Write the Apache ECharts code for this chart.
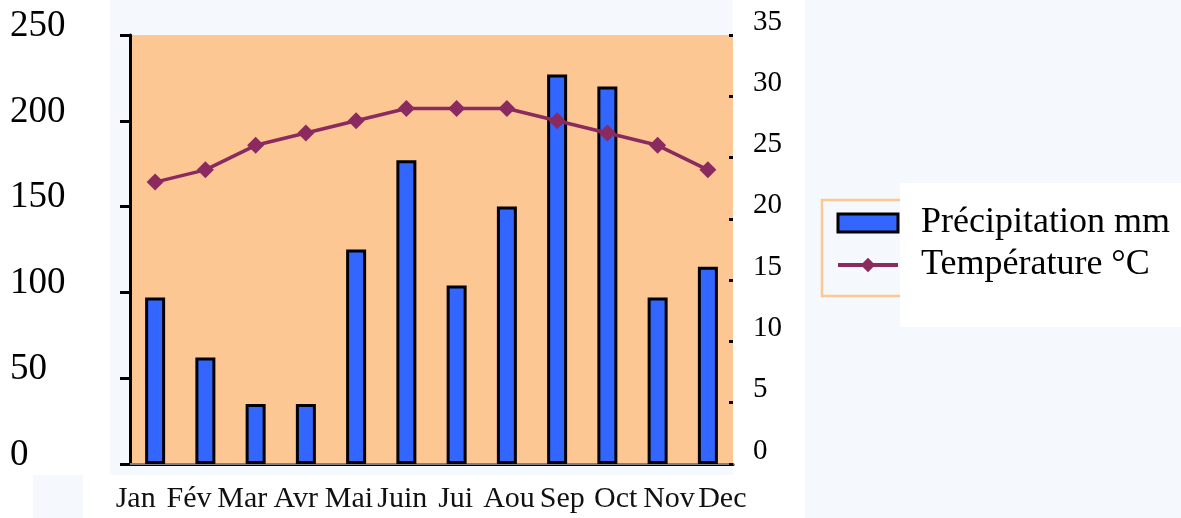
<!DOCTYPE html>
<html>
<head>
  <meta charset="UTF-8">
  <title>Climat</title>
  <script src="https://cdn.jsdelivr.net/npm/echarts@6/dist/echarts.min.js"></script>
</head>
<body style="margin: 0; background-color: #ffffff;">
  <div id="main" style="width: 1181px; height: 518px;"></div>
  <script type="text/javascript">
    // données
    var months = ['Jan', 'Fév', 'Mar', 'Avr', 'Mai', 'Juin', 'Jui', 'Aou', 'Sep', 'Oct', 'Nov', 'Dec'];
    var precipitation = [97, 62, 35, 35, 125, 177, 104, 150, 227, 220, 97, 115];
    var temperature = [23, 24, 26, 27, 28, 29, 29, 29, 28, 27, 26, 24];
    var seriesNames = ['Précipitation mm', 'Température °C'];

    var serif = '"Liberation Serif", "Times New Roman", serif';
    var lightBlue = '#f5f9fd';
    var plotBg = '#fdc794';
    var lineColor = '#8b2a5e';

    var myChart = echarts.init(document.getElementById('main'));

    var option = {
      backgroundColor: '#ffffff',
      animation: false,
      textStyle: { fontFamily: serif },
      graphic: [
        // fonds bleu clair autour du graphique
        { type: 'rect', z: -10, shape: { x: 110, y: 0, width: 623, height: 475 }, style: { fill: lightBlue } },
        { type: 'rect', z: -10, shape: { x: 805, y: 0, width: 376, height: 518 }, style: { fill: lightBlue } },
        { type: 'rect', z: -10, shape: { x: 33, y: 475, width: 50, height: 43 }, style: { fill: lightBlue } },
        // cadre de la légende
        { type: 'rect', z: -9, shape: { x: 822, y: 200, width: 80, height: 96 }, style: { fill: lightBlue, stroke: plotBg, lineWidth: 2.5 } },
        { type: 'rect', z: -8, shape: { x: 900, y: 183, width: 281, height: 144 }, style: { fill: '#ffffff' } }
      ],
      legend: {
        data: [
          { name: seriesNames[0], icon: 'rect', itemStyle: { borderWidth: 3, borderColor: '#000' } },
          { name: seriesNames[1], lineStyle: { width: 4 } }
        ],
        orient: 'vertical',
        left: 831,
        top: 200,
        itemWidth: 60,
        itemHeight: 18,
        itemGap: 6,
        textStyle: {
          fontFamily: serif,
          fontSize: 36,
          color: '#000',
          padding: [0, 0, 0, 18]
        }
      },
      grid: [
        {
          left: 130,
          right: 448,
          top: 35,
          bottom: 54,
          show: true,
          backgroundColor: plotBg,
          borderWidth: 0
        },
        // grille sans tracé, seulement pour placer les libellés des mois
        { left: 109, right: 432, top: 35, bottom: 54 }
      ],
      xAxis: [
        {
          type: 'category',
          data: months,
          boundaryGap: true,
          axisLine: { lineStyle: { color: '#000', width: 3 } },
          axisTick: { length: 10, lineStyle: { color: '#000', width: 3 } },
          axisLabel: { show: false }
        },
        {
          type: 'category',
          data: months,
          position: 'top',
          axisLine: { lineStyle: { color: '#808080', width: 2 } },
          axisTick: { show: false },
          axisLabel: { show: false }
        },
        {
          type: 'category',
          gridIndex: 1,
          data: months,
          axisLine: { show: false },
          axisTick: { show: false },
          axisLabel: { fontFamily: serif, fontSize: 30, color: '#111', margin: 20, interval: 0 }
        }
      ],
      yAxis: [
        {
          type: 'value',
          min: 0,
          max: 250,
          interval: 50,
          axisLine: { show: true, lineStyle: { color: '#000', width: 3 } },
          axisTick: { show: true, length: 10, lineStyle: { color: '#000', width: 3 } },
          splitLine: { show: false },
          axisLabel: {
            fontFamily: serif,
            fontSize: 37,
            color: '#000',
            align: 'left',
            margin: 120,
            verticalAlign: 'bottom',
            lineHeight: 18
          }
        },
        {
          type: 'value',
          min: 0,
          max: 35,
          interval: 5,
          position: 'right',
          axisLine: { show: false },
          axisTick: { show: true, inside: true, length: 4, lineStyle: { color: '#000', width: 3 } },
          splitLine: { show: false },
          axisLabel: {
            fontFamily: serif,
            fontSize: 29,
            color: '#000',
            align: 'left',
            margin: 20,
            verticalAlign: 'bottom',
            lineHeight: 26
          }
        },
        {
          type: 'value',
          gridIndex: 1,
          show: false
        }
      ],
      series: [
        {
          name: seriesNames[0],
          type: 'bar',
          data: precipitation,
          barWidth: 20,
          itemStyle: { color: '#3366ff', borderColor: '#000', borderWidth: 3 }
        },
        {
          name: seriesNames[1],
          type: 'line',
          yAxisIndex: 1,
          data: temperature,
          symbol: 'diamond',
          symbolSize: 17,
          lineStyle: { color: lineColor, width: 3.5 },
          itemStyle: { color: lineColor }
        }
      ]
    };

    myChart.setOption(option);
  </script>
</body>
</html>
